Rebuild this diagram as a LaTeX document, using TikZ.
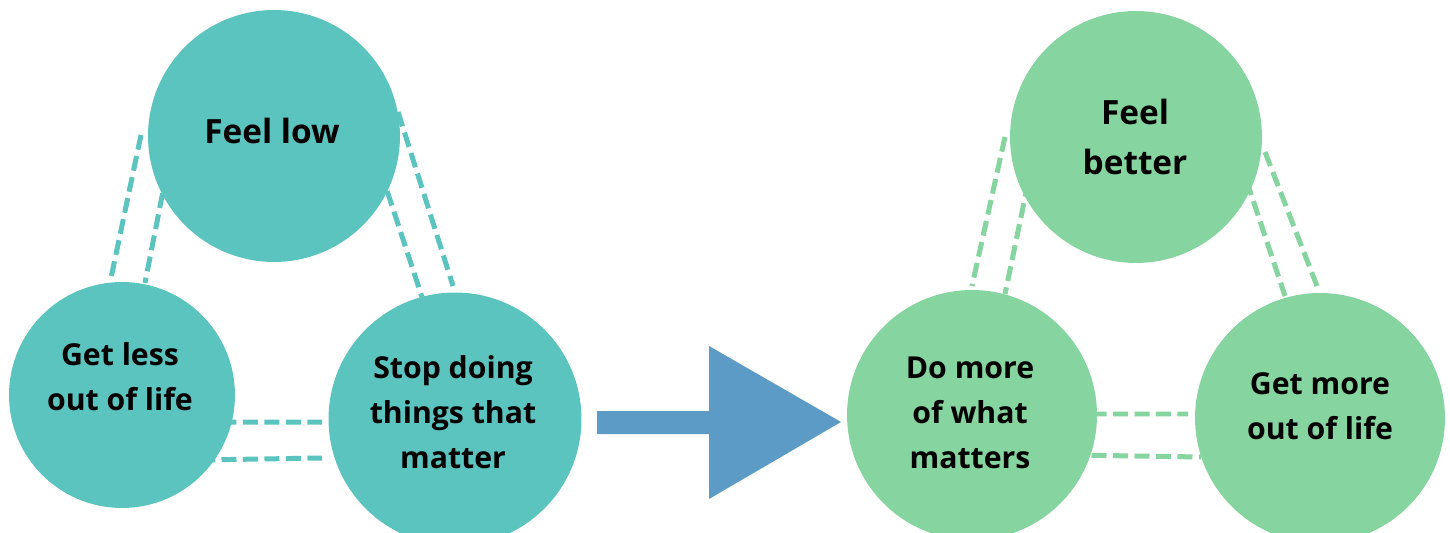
\documentclass[tikz,border=0pt]{standalone}
\usepackage{fontspec}
\setmainfont{Open Sans}
\usepackage{tikz}
\usetikzlibrary{positioning,calc}

\definecolor{tealc}{HTML}{5BC4BF}
\definecolor{greenc}{HTML}{86D49F}
\definecolor{bluec}{HTML}{5B9BC6}

\begin{document}
\begin{tikzpicture}[x=0.02cm,y=-0.02cm,
   bubble/.style={circle,inner sep=0pt,draw=none},
   txt/.style={align=center,inner sep=0pt,font=\fontsize{17.2}{25.8}\selectfont\bfseries},
   big/.style={font=\fontsize{19}{29}\selectfont\bfseries},
   link/.style={line width=0.1cm,dash pattern=on 0.3cm off 0.13cm}]
   \clip (0,0) rectangle (1450,533);

   % ends of the dashed links (drawn first, circles go on top)
   \coordinate (a1) at (141,135);  \coordinate (a2) at (111,278);
   \coordinate (a3) at (175,130);  \coordinate (a4) at (145,283);
   \coordinate (b1) at (398,112);  \coordinate (b2) at (453,286);
   \coordinate (b3) at (367,130);  \coordinate (b4) at (422,297);
   \coordinate (c1) at (200,422);  \coordinate (c2) at (322,422);
   \coordinate (c3) at (200,460);  \coordinate (c4) at (322,458);

   \coordinate (d1) at (1005,137); \coordinate (d2) at (972,286);
   \coordinate (d3) at (1037,140); \coordinate (d4) at (1005,294);
   \coordinate (e1) at (1265,152); \coordinate (e2) at (1317,286);
   \coordinate (e3) at (1233,140); \coordinate (e4) at (1285,296);
   \coordinate (f1) at (1070,414); \coordinate (f2) at (1188,414);
   \coordinate (f3) at (1070,455); \coordinate (f4) at (1201,457);

   \draw[link,tealc] (a1) -- (a2) (a3) -- (a4)
                     (b1) -- (b2) (b3) -- (b4)
                     (c1) -- (c2) (c3) -- (c4);
   \draw[link,greenc] (d1) -- (d2) (d3) -- (d4)
                      (e1) -- (e2) (e3) -- (e4)
                      (f1) -- (f2) (f3) -- (f4);

   % left cycle
   \node[bubble,fill=tealc,minimum size=5.04cm] (low)  at (274,136) {};
   \node[bubble,fill=tealc,minimum size=4.52cm] (less) at (122,395) {};
   \node[bubble,fill=tealc,minimum size=5.06cm] (stop) at (455,419) {};
   \node[txt,big] (low-t)  at (272,131) {Feel low};
   \node[txt]     (less-t) at (120,377) {Get less\\out of life};
   \node[txt]     (stop-t) at (453,412) {Stop doing\\things that\\matter};

   % right cycle
   \node[bubble,fill=greenc,minimum size=5.04cm] (better) at (1136,137) {};
   \node[bubble,fill=greenc,minimum size=5.00cm] (more)   at (972,415) {};
   \node[bubble,fill=greenc,minimum size=5.00cm] (gain)   at (1320,418) {};
   \node[txt,big] (better-t) at (1135,137) {Feel\\better};
   \node[txt]     (more-t)   at (970,413)  {Do more\\of what\\matters};
   \node[txt]     (gain-t)   at (1320,406) {Get more\\out of life};

   % block arrow
   \fill[bluec] (597,411) -- (709,411) -- (709,346) -- (841,422)
                -- (709,499) -- (709,434) -- (597,434) -- cycle;
\end{tikzpicture}
\end{document}
